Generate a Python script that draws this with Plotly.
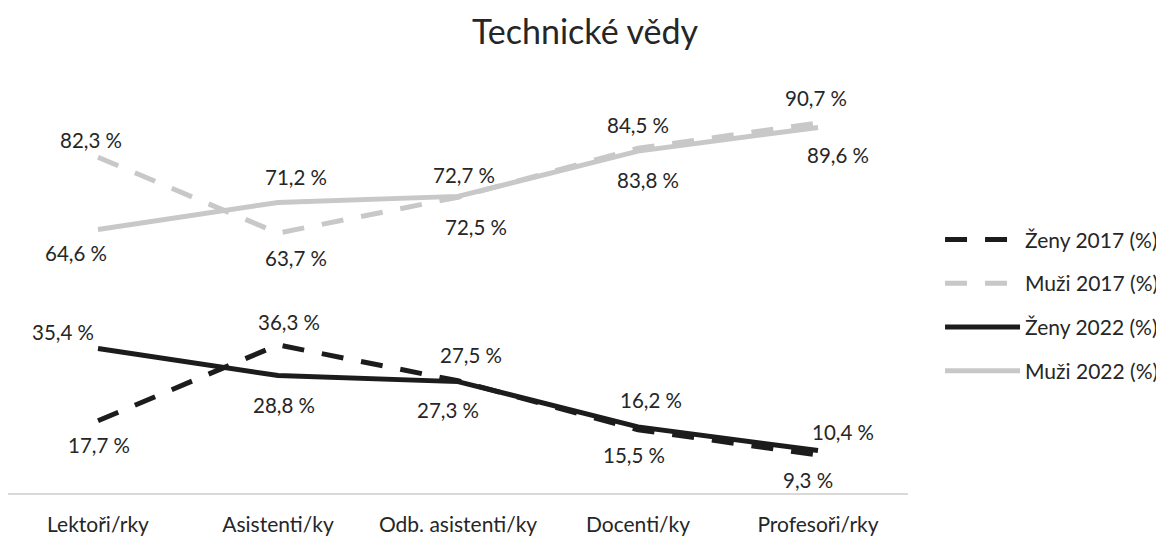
import plotly.graph_objects as go

categories = ["Lektoři/rky", "Asistenti/ky", "Odb. asistenti/ky", "Docenti/ky", "Profesoři/rky"]
zeny_2017 = [17.7, 36.3, 27.5, 15.5, 9.3]
muzi_2017 = [82.3, 63.7, 72.5, 84.5, 90.7]
zeny_2022 = [35.4, 28.8, 27.3, 16.2, 10.4]
muzi_2022 = [64.6, 71.2, 72.7, 83.8, 89.6]
series_names = ["Ženy 2017 (%)", "Muži 2017 (%)", "Ženy 2022 (%)", "Muži 2022 (%)"]

BLACK = "#1c1c1c"
GRAY = "#c8c8c8"
TEXT = "#262626"
FONT = "Lato"


def fmt(v):
    return f"{v:.1f} %".replace(".", ",")


# label offsets (pixels) relative to each point: (dx, dy up)
styles = [
    dict(color=BLACK, dash="22px,18px",
         off=[(1, -24), (11, 23), (13, 26), (-4, -25), (-10, -25)]),
    dict(color=GRAY, dash="22px,18px",
         off=[(-7, 17), (18, -25), (18, -30), (0, 23), (-2, 25)]),
    dict(color=BLACK, dash="solid",
         off=[(-35, 17), (6, -29), (-10, -28), (13, 27), (25, 19)]),
    dict(color=GRAY, dash="solid",
         off=[(-22, -24), (18, 26), (6, 21), (10, -29), (20, -28)]),
]

fig = go.Figure()
for name, vals, st in zip(series_names, [zeny_2017, muzi_2017, zeny_2022, muzi_2022], styles):
    fig.add_trace(go.Scatter(
        x=categories, y=vals, name=name, mode="lines",
        line=dict(color=st["color"], width=5, dash=st["dash"]),
        legendgroup=name, hoverinfo="skip",
    ))
    for c, v, (dx, dy) in zip(categories, vals, st["off"]):
        fig.add_annotation(
            x=c, y=v, text=fmt(v), showarrow=False,
            xanchor="center", yanchor="middle", xshift=dx, yshift=dy,
            font=dict(family=FONT, size=20.5, color=TEXT),
        )

fig.update_layout(
    width=1164, height=537,
    margin=dict(l=0, r=264, t=77, b=52),
    paper_bgcolor="white", plot_bgcolor="white",
    title=dict(text="Technické vědy", x=0.4957, xanchor="center", y=0.955, yanchor="middle",
               font=dict(family=FONT, size=34, color=TEXT)),
    font=dict(family=FONT, size=21, color=TEXT),
    showlegend=True,
    legend=dict(x=1.0356, xanchor="left", y=0.46, yanchor="middle",
                font=dict(family=FONT, size=21, color=TEXT),
                itemwidth=75, tracegroupgap=13.5, traceorder="grouped",
                bgcolor="rgba(0,0,0,0)"),
    xaxis=dict(range=[-0.5, 4.5], showgrid=False, showline=True, linecolor="#d9d9d9", linewidth=1.5,
               ticks="", tickfont=dict(family=FONT, size=21, color=TEXT),
               ticklabelstandoff=12, fixedrange=True),
    yaxis=dict(range=[0, 100], visible=False, fixedrange=True),
)

fig.write_html("out.html")
